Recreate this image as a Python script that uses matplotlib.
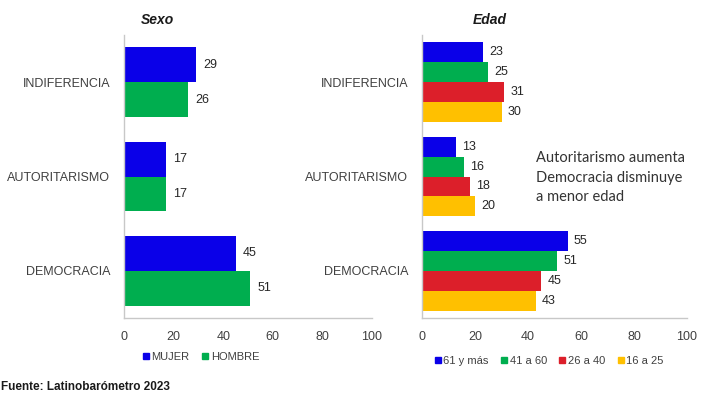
import matplotlib
matplotlib.use("Agg")
import matplotlib.pyplot as plt
from matplotlib.lines import Line2D
import numpy as np

plt.rcParams['font.family'] = ['Liberation Sans', 'DejaVu Sans']

categories = ["INDIFERENCIA", "AUTORITARISMO", "DEMOCRACIA"]

sexo_series = ["MUJER", "HOMBRE"]
mujer = [29, 17, 45]
hombre = [26, 17, 51]

edad_series = ["61 y más", "41 a 60", "26 a 40", "16 a 25"]
edad_61 = [23, 13, 55]
edad_41 = [25, 16, 51]
edad_26 = [31, 18, 45]
edad_16 = [30, 20, 43]

xticks = [0, 20, 40, 60, 80, 100]

sexo_colors = ["#0A00E8", "#00AE4F"]
edad_colors = ["#0A00E8", "#00AE4F", "#DC1F2A", "#FFC000"]

W, H = 720, 400
fig = plt.figure(figsize=(7.2, 4.0), dpi=100)
fig.patch.set_facecolor("white")

def px(x0, y0, x1, y1):
    return [x0 / W, 1 - y1 / H, (x1 - x0) / W, (y1 - y0) / H]

ax1 = fig.add_axes(px(124, 35, 372, 318))
ax2 = fig.add_axes(px(422, 35, 687, 318))

def style(ax):
    ax.set_xlim(0, 100)
    ax.set_ylim(2.5, -0.5)
    ax.set_facecolor("none")
    for s in ["top", "right"]:
        ax.spines[s].set_visible(False)
    for s in ["left", "bottom"]:
        ax.spines[s].set_color("#C8C8C8")
        ax.spines[s].set_linewidth(1.0)
    ax.set_xticks(xticks)
    ax.set_xticklabels([str(t) for t in xticks], fontsize=9, color="#404040")
    ax.set_yticks(range(len(categories)))
    ax.set_yticklabels(categories, fontsize=9, color="#404040")
    ax.tick_params(axis="both", length=0)
    ax.tick_params(axis="x", pad=9)
    ax.tick_params(axis="y", pad=10)

y = np.arange(len(categories))

# Sexo
h1 = 0.37
for i, (vals, col) in enumerate(zip([mujer, hombre], sexo_colors)):
    off = (i - 0.5) * h1
    ax1.barh(y + off, vals, height=h1, color=col)
    for yy, v in zip(y + off, vals):
        ax1.text(v + 2.8, yy, str(v), va="center", ha="left", fontsize=9, color="#262626")
style(ax1)
ax1.set_title("Sexo", fontsize=10, fontweight="bold", fontstyle="italic", color="#1a1a1a", pad=8, x=0.135)

# Edad
h2 = 0.212
for i, (vals, col) in enumerate(zip([edad_61, edad_41, edad_26, edad_16], edad_colors)):
    off = (i - 1.5) * h2
    ax2.barh(y + off, vals, height=h2, color=col)
    for yy, v in zip(y + off, vals):
        ax2.text(v + 2.3, yy, str(v), va="center", ha="left", fontsize=9, color="#262626")
style(ax2)
ax2.set_title("Edad", fontsize=10, fontweight="bold", fontstyle="italic", color="#1a1a1a", pad=8, x=0.255)

# Legends
def legend(ax, labels, colors, cx, cy):
    handles = [Line2D([], [], marker="s", linestyle="none", markersize=5, color=c) for c in colors]
    fig.legend(handles, labels, loc="center", bbox_to_anchor=(cx / W, 1 - cy / H), ncol=len(labels),
               frameon=False, fontsize=8, handlelength=0.6, handletextpad=0.2, columnspacing=1.1,
               labelcolor="#404040")

legend(ax1, sexo_series, sexo_colors, 201, 357)
legend(ax2, edad_series, edad_colors, 549, 361)

fig.text(536 / W, 1 - 158 / H, "Autoritarismo aumenta", fontsize=10.5, color="#333333",
         va="center", ha="left", family=["Lato", "DejaVu Sans"])
fig.text(536 / W, 1 - 178 / H, "Democracia disminuye", fontsize=10.5, color="#333333",
         va="center", ha="left", family=["Lato", "DejaVu Sans"])
fig.text(536 / W, 1 - 197 / H, "a menor edad", fontsize=10.5, color="#333333",
         va="center", ha="left", family=["Lato", "DejaVu Sans"])

fig.text(1 / W, 1 - 387 / H, "Fuente: Latinobarómetro 2023", fontsize=8.5, fontweight="bold",
         color="#1a1a1a", va="center", ha="left")

fig.savefig("out.png", dpi=100, facecolor="white")
